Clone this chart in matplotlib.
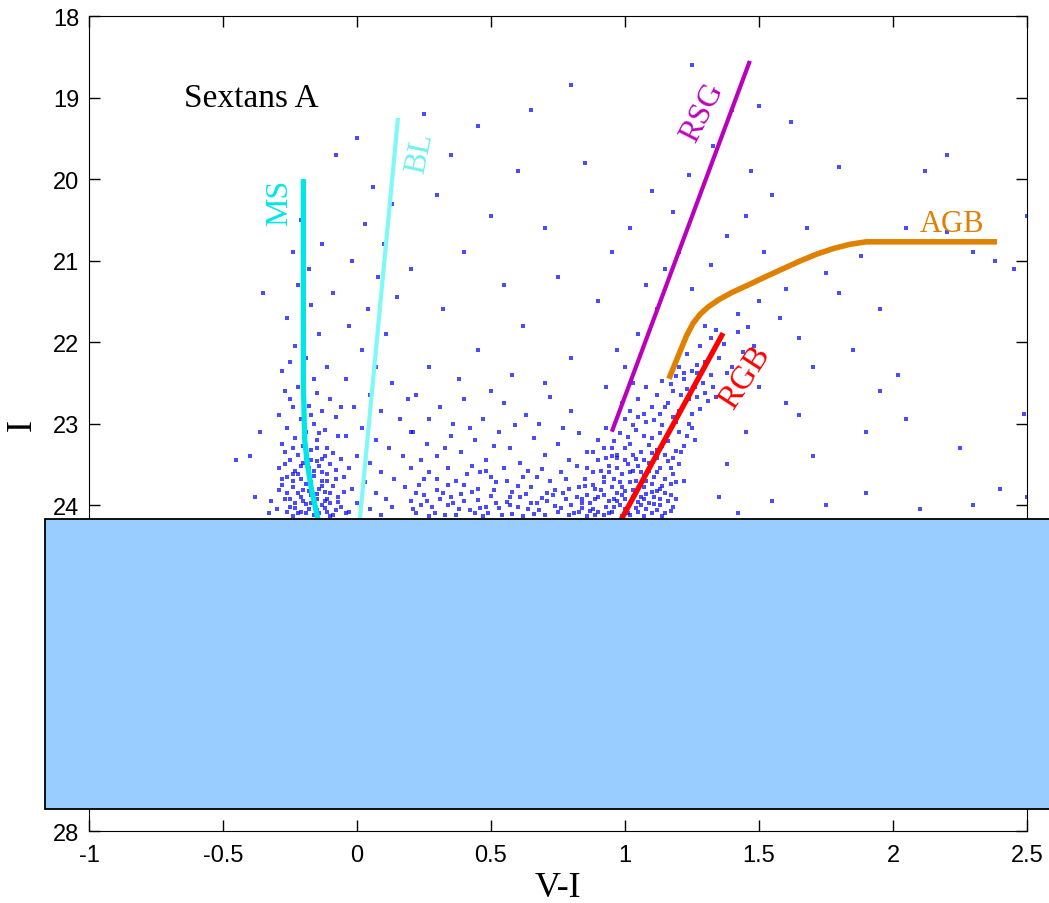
import matplotlib.pyplot as plt
from matplotlib.patches import Rectangle

# colour-magnitude diagram of Sextans A, I vs V-I
# stars, grouped by where they sit in the diagram
ms_stars = [(-0.24, 20.9), (-0.22, 21.3), (-0.17, 21.55), (-0.26, 21.7), (-0.14, 21.9), (-0.23, 22.05),
            (-0.19, 22.2), (-0.11, 22.3), (-0.28, 22.35), (-0.16, 22.45), (-0.21, 20.5), (-0.13, 20.8),
            (-0.18, 21.1), (-0.09, 21.4), (-0.25, 22.25),
            (-0.27, 22.6), (-0.22, 22.55), (-0.15, 22.62), (-0.10, 22.7), (-0.24, 22.8), (-0.18, 22.78),
            (-0.13, 22.85), (-0.29, 22.9), (-0.21, 22.95), (-0.16, 23.0), (-0.08, 22.92), (-0.26, 23.05),
            (-0.19, 23.1), (-0.12, 23.08), (-0.23, 23.18), (-0.15, 23.2), (-0.07, 23.15), (-0.28, 23.25),
            (-0.2, 23.28), (-0.11, 23.3), (-0.25, 22.7), (-0.06, 22.8), (-0.17, 22.9), (-0.14, 23.12),
            (-0.27, 23.35), (-0.22, 23.38), (-0.17, 23.33), (-0.12, 23.4), (-0.09, 23.36), (-0.25, 23.45),
            (-0.2, 23.48), (-0.15, 23.46), (-0.1, 23.5), (-0.06, 23.44), (-0.29, 23.55), (-0.23, 23.58),
            (-0.18, 23.55), (-0.13, 23.6), (-0.08, 23.57), (-0.26, 23.65), (-0.21, 23.68), (-0.16, 23.64),
            (-0.11, 23.7), (-0.05, 23.66), (-0.28, 23.75), (-0.24, 23.78), (-0.19, 23.74), (-0.14, 23.8),
            (-0.09, 23.77), (-0.22, 23.85), (-0.17, 23.88), (-0.12, 23.84), (-0.07, 23.9), (-0.27, 23.92),
            (-0.2, 23.95), (-0.15, 23.93), (-0.1, 23.98), (-0.25, 24.02), (-0.18, 24.05), (-0.13, 24.0),
            (-0.08, 24.06), (-0.22, 24.1), (-0.16, 24.12), (-0.11, 24.09), (-0.3, 24.05), (-0.24, 23.62),
            (-0.19, 23.42), (-0.14, 23.52), (-0.23, 23.98), (-0.17, 23.72), (-0.12, 23.95), (-0.21, 24.08),
            (-0.26, 23.85), (-0.15, 24.06), (-0.2, 23.82), (-0.1, 23.85), (-0.06, 24.02), (-0.32, 23.95),
            (-0.33, 24.1), (-0.18, 23.62), (-0.13, 23.7), (-0.28, 23.68), (-0.09, 24.12), (-0.24, 24.13),
            (-0.26, 24.08), (-0.23, 24.03), (-0.19, 24.1), (-0.17, 23.98), (-0.14, 24.1), (-0.12, 24.04),
            (-0.1, 24.13), (-0.07, 23.96), (-0.21, 23.9), (-0.18, 23.83), (-0.15, 23.86), (-0.13, 23.76),
            (-0.24, 23.7), (-0.22, 23.62), (-0.16, 23.58), (-0.11, 23.62), (-0.27, 23.5), (-0.21, 23.52),
            (-0.17, 23.45), (-0.13, 23.43), (-0.24, 23.3), (-0.19, 23.36), (-0.15, 23.3), (-0.08, 23.68),
            (-0.05, 23.84), (-0.29, 23.82), (-0.25, 23.92), (-0.19, 23.99), (-0.11, 23.92), (-0.03, 24.08)]

bl_stars = [(0.06, 20.1), (0.13, 20.3), (0.03, 20.55), (0.1, 20.8), (-0.02, 21.0), (0.08, 21.2),
            (0.15, 21.45), (0.04, 21.6), (-0.03, 21.8), (0.11, 21.9), (0.02, 22.1), (0.07, 22.3),
            (-0.04, 22.45), (0.13, 22.5), (0.05, 22.65), (-0.01, 22.8), (0.09, 22.85), (0.16, 22.95),
            (0.02, 23.05), (-0.04, 23.15), (0.07, 23.2), (0.12, 23.3), (0.0, 23.4), (0.05, 23.48),
            (-0.03, 23.55), (0.09, 23.6), (0.14, 23.68), (0.03, 23.72), (-0.02, 23.8), (0.07, 23.85),
            (0.11, 23.92), (0.0, 23.98), (0.05, 24.05), (-0.04, 24.1), (0.09, 24.12), (0.13, 24.02),
            (0.18, 23.78), (0.17, 23.4), (0.2, 23.1), (0.19, 22.7)]

mid_stars = [(0.22, 22.65), (0.31, 22.8), (0.4, 22.7), (0.47, 22.95), (0.55, 22.75), (0.63, 22.9),
             (0.72, 22.68), (0.8, 22.85), (0.27, 22.95), (0.5, 22.6), (0.68, 23.0), (0.36, 23.0),
             (0.21, 23.1), (0.26, 23.25), (0.3, 23.4), (0.35, 23.15), (0.39, 23.35), (0.44, 23.2),
             (0.48, 23.45), (0.53, 23.1), (0.57, 23.3), (0.61, 23.48), (0.66, 23.18), (0.7, 23.38),
             (0.75, 23.25), (0.79, 23.45), (0.83, 23.12), (0.24, 23.45), (0.42, 23.05), (0.59, 23.02),
             (0.77, 23.05), (0.33, 23.3), (0.51, 23.28), (0.86, 23.35),
             (0.2, 23.55), (0.23, 23.75), (0.27, 23.6), (0.3, 23.82), (0.34, 23.55), (0.37, 23.7),
             (0.41, 23.62), (0.45, 23.8), (0.48, 23.58), (0.52, 23.72), (0.55, 23.55), (0.58, 23.84),
             (0.62, 23.65), (0.65, 23.78), (0.69, 23.56), (0.72, 23.7), (0.76, 23.6), (0.79, 23.8),
             (0.82, 23.52), (0.85, 23.68), (0.25, 23.68), (0.43, 23.52), (0.6, 23.76), (0.74, 23.82),
             (0.88, 23.6),
             (0.2, 23.95), (0.22, 24.1), (0.25, 23.88), (0.28, 24.02), (0.31, 23.92), (0.33, 24.12),
             (0.36, 23.98), (0.39, 23.87), (0.42, 24.06), (0.45, 23.94), (0.47, 24.13), (0.5, 23.89),
             (0.53, 24.04), (0.56, 23.96), (0.58, 24.11), (0.61, 23.9), (0.64, 24.05), (0.67, 23.97),
             (0.7, 24.12), (0.73, 23.88), (0.76, 24.03), (0.78, 23.93), (0.81, 24.1), (0.84, 23.98),
             (0.87, 24.07), (0.24, 24.0), (0.35, 23.9), (0.44, 24.1), (0.52, 23.97), (0.62, 24.13),
             (0.69, 23.91), (0.8, 24.0), (0.89, 23.92), (0.27, 24.13), (0.48, 24.02), (0.57, 24.0),
             (0.66, 24.11), (0.75, 24.08), (0.86, 24.13), (0.38, 24.05),
             (0.21, 24.05), (0.26, 23.95), (0.29, 24.1), (0.32, 23.85), (0.34, 24.0), (0.37, 24.12),
             (0.4, 23.95), (0.43, 23.84), (0.46, 24.03), (0.49, 24.1), (0.51, 23.82), (0.54, 24.12),
             (0.57, 23.9), (0.6, 24.02), (0.63, 23.86), (0.65, 23.98), (0.68, 24.06), (0.71, 23.95),
             (0.74, 24.01), (0.77, 23.85), (0.79, 24.12), (0.82, 23.9), (0.84, 24.03), (0.3, 23.68),
             (0.4, 23.75), (0.5, 23.65), (0.64, 23.58), (0.71, 23.85), (0.78, 23.68), (0.83, 23.78),
             (0.22, 23.85), (0.46, 23.6), (0.56, 23.7), (0.67, 23.66), (0.34, 23.75)]

rgb_stars = [(0.88, 24.05), (0.9, 23.9), (0.92, 24.12), (0.94, 23.95), (0.95, 24.08), (0.97, 23.85),
             (0.98, 24.0), (1.0, 23.92), (1.01, 24.1), (1.03, 23.82), (1.04, 24.03), (1.06, 23.9),
             (1.07, 24.13), (1.09, 23.97), (1.1, 23.84), (1.12, 24.06), (1.13, 23.92), (1.15, 24.1),
             (1.17, 23.88), (1.18, 24.02), (0.91, 23.82), (0.93, 24.02), (0.96, 23.92), (0.99, 24.13),
             (1.02, 23.97), (1.05, 24.08), (1.08, 23.86), (1.11, 23.99), (1.14, 24.13), (1.16, 23.95),
             (0.86, 23.88), (0.89, 24.12), (1.0, 23.83), (1.06, 24.0), (1.12, 23.83),
             (0.86, 23.55), (0.88, 23.75), (0.9, 23.45), (0.92, 23.65), (0.94, 23.52), (0.95, 23.78),
             (0.97, 23.42), (0.99, 23.62), (1.01, 23.5), (1.02, 23.72), (1.04, 23.44), (1.06, 23.6),
             (1.07, 23.78), (1.09, 23.48), (1.11, 23.66), (1.13, 23.54), (1.14, 23.76), (1.16, 23.46),
             (1.18, 23.62), (1.2, 23.5), (0.93, 23.42), (0.98, 23.72), (1.03, 23.58), (1.08, 23.7),
             (1.12, 23.42), (1.17, 23.74), (1.22, 23.7), (0.91, 23.58),
             (0.9, 23.2), (0.93, 23.05), (0.95, 23.3), (0.98, 23.12), (1.0, 22.95), (1.02, 23.25),
             (1.04, 23.08), (1.06, 23.35), (1.08, 22.98), (1.1, 23.18), (1.12, 23.32), (1.14, 23.02),
             (1.16, 23.22), (1.18, 22.92), (1.2, 23.1), (1.22, 23.28), (1.24, 23.0), (0.97, 23.38),
             (1.05, 22.92), (1.11, 22.96), (1.15, 23.38), (1.19, 23.34), (1.01, 23.16), (1.09, 23.26),
             (0.88, 23.35), (1.26, 23.2),
             (1.02, 22.85), (1.05, 22.7), (1.08, 22.55), (1.1, 22.8), (1.12, 22.65), (1.14, 22.48),
             (1.16, 22.75), (1.18, 22.6), (1.2, 22.85), (1.22, 22.45), (1.24, 22.7), (1.26, 22.55),
             (1.28, 22.82), (1.3, 22.62), (1.32, 22.4), (1.07, 22.88), (1.19, 22.42), (1.27, 22.38),
             (1.34, 22.68), (1.13, 22.88), (0.99, 22.75), (1.03, 22.5),
             (1.2, 22.3), (1.23, 22.15), (1.25, 22.35), (1.28, 22.05), (1.3, 22.25), (1.32, 21.95),
             (1.35, 22.2), (1.37, 22.02), (1.4, 22.3), (1.42, 21.88), (1.44, 22.12), (1.46, 21.82),
             (1.34, 21.85), (1.27, 22.28), (1.38, 22.38), (1.48, 22.05), (1.22, 22.38), (1.3, 21.8),
             (0.87, 23.97), (0.9, 24.08), (0.92, 23.88), (0.94, 24.1), (0.96, 24.02), (0.97, 23.95),
             (0.99, 23.88), (1.0, 24.05), (1.02, 24.12), (1.03, 23.9), (1.05, 23.96), (1.07, 23.92),
             (1.08, 24.05), (1.1, 24.1), (1.11, 23.9), (1.13, 24.0), (1.15, 23.85), (1.17, 24.07),
             (1.19, 23.93), (0.89, 23.8), (0.92, 23.72), (0.94, 23.6), (0.96, 23.68), (0.97, 23.55),
             (0.99, 23.78), (1.0, 23.45), (1.02, 23.6), (1.04, 23.7), (1.05, 23.52), (1.07, 23.64),
             (1.09, 23.58), (1.1, 23.74), (1.12, 23.6), (1.13, 23.8), (1.15, 23.68), (1.17, 23.55),
             (1.19, 23.72), (0.95, 23.4), (1.0, 23.3), (1.03, 23.38), (1.07, 23.45), (1.1, 23.36),
             (1.14, 23.28), (1.18, 23.42), (1.21, 23.35), (1.23, 23.15), (1.25, 23.05), (1.13, 23.12),
             (1.07, 23.15), (1.03, 23.02), (0.96, 23.22), (0.92, 23.3), (1.19, 22.98), (1.15, 22.8),
             (1.21, 22.65), (1.25, 22.88), (1.29, 22.5), (1.31, 22.72), (1.17, 22.52), (1.23, 22.58),
             (1.33, 22.55), (1.27, 22.68), (0.84, 23.92), (0.83, 24.08), (0.85, 23.76)]

upper_stars = [(1.0, 22.3), (0.93, 22.55), (0.97, 22.1), (1.05, 21.9), (1.12, 21.6), (1.08, 21.3),
               (1.15, 21.1), (1.2, 20.9), (1.25, 21.35), (1.32, 21.05), (1.38, 20.7), (1.45, 20.45),
               (1.52, 20.9), (1.6, 21.35), (1.68, 20.6), (1.75, 21.15), (1.5, 21.5), (1.42, 21.65),
               (1.58, 21.7), (1.65, 21.95), (1.8, 21.4), (1.88, 20.95), (1.55, 20.2), (1.47, 19.9),
               (1.33, 19.6), (1.24, 19.95), (1.18, 20.4), (1.1, 20.15), (1.02, 20.6), (0.95, 20.9),
               (1.4, 19.15), (1.5, 19.1), (1.62, 19.3), (1.7, 22.3), (1.85, 22.1), (1.95, 21.6)]

field_stars = [(-0.35, 21.4), (-0.36, 23.1), (-0.38, 23.9), (-0.4, 23.4), (-0.45, 23.45), (-0.08, 19.7),
               (0.0, 19.5), (0.25, 19.2), (0.35, 19.7), (0.45, 19.35), (0.3, 20.2), (0.5, 20.45),
               (0.6, 19.9), (0.4, 20.9), (0.2, 21.1), (0.55, 21.3), (0.7, 20.6), (0.32, 21.6),
               (0.62, 21.8), (0.75, 21.2), (0.85, 19.8), (0.9, 21.5), (0.45, 22.1), (0.27, 22.3),
               (0.58, 22.4), (0.8, 22.2), (0.7, 22.5), (0.38, 22.45), (0.65, 19.15), (0.8, 18.85),
               (1.25, 18.6), (2.05, 20.6), (2.2, 20.65), (2.3, 20.9), (2.45, 21.1), (2.55, 20.8),
               (2.2, 19.7), (1.8, 19.85), (2.38, 21.0), (2.57, 23.05), (2.5, 23.9), (2.55, 23.6),
               (1.65, 22.9), (1.7, 23.4), (1.9, 23.1), (2.05, 22.95), (2.25, 23.3), (2.4, 23.8),
               (1.55, 23.95), (1.75, 24.0), (1.9, 23.85), (1.38, 23.5), (1.45, 23.1), (1.5, 22.55),
               (1.6, 22.75), (2.1, 24.05), (2.3, 24.0), (1.95, 22.6), (2.02, 22.4), (1.42, 24.1),
               (1.35, 23.9), (2.5, 20.45), (2.12, 19.9), (2.49, 22.88)]

# sequence lines
ms_x = [-0.20, -0.20, -0.195, -0.185, -0.17, -0.146, -0.14]
ms_y = [20.0, 22.5, 23.2, 23.5, 23.8, 24.17, 24.3]
bl_x = [0.153, 0.011, 0.005]
bl_y = [19.25, 24.17, 24.3]
rsg_x = [1.466, 0.951]
rsg_y = [18.55, 23.10]
rgb_x = [1.366, 0.989, 0.97]
rgb_y = [21.89, 24.16, 24.3]
agb_x = [1.164, 1.185, 1.205, 1.23, 1.254, 1.28, 1.31, 1.35, 1.40, 1.466, 1.53, 1.59, 1.65,
         1.716, 1.78, 1.84, 1.90, 2.388]
agb_y = [22.45, 22.28, 22.12, 21.92, 21.77, 21.66, 21.57, 21.48, 21.39, 21.29, 21.19, 21.10, 21.01,
         20.92, 20.85, 20.80, 20.77, 20.77]

# hidden region box (V-I and I corners)
box_x = [-1.165, 2.62]
box_y = [24.17, 27.73]

fig = plt.figure(figsize=(10.49, 9.04), dpi=100)
ax = fig.add_axes([0.0848, 0.0796, 0.8942, 0.9015])

allstars = ms_stars + bl_stars + mid_stars + rgb_stars + upper_stars + field_stars
sx = [p[0] for p in allstars]
sy = [p[1] for p in allstars]
ax.plot(sx, sy, 's', ms=2.3, mew=0, color='#0000ff', alpha=0.7, zorder=2)

ax.plot(ms_x, ms_y, color='#00e6e6', lw=3.8, solid_capstyle='butt', zorder=3)
ax.plot(bl_x, bl_y, color='#80f8f8', lw=3.0, solid_capstyle='butt', zorder=3)
ax.plot(rsg_x, rsg_y, color='#bb00bb', lw=3.0, solid_capstyle='butt', zorder=3)
ax.plot(rgb_x, rgb_y, color='#ff0000', lw=3.8, solid_capstyle='butt', zorder=3)
ax.plot(agb_x, agb_y, color='#e08000', lw=4.0, solid_capstyle='butt', zorder=3)

serif = 'Liberation Serif'
ax.text(-0.396, 19.0, 'Sextans A', family=serif, fontsize=24, ha='center', va='center')
ax.text(-0.287, 20.28, 'MS', family=serif, fontsize=23, color='#00e6e6', rotation=90, ha='center', va='center')
ax.text(0.235, 19.67, 'BL', family=serif, fontsize=23, color='#70f0f0', rotation=78, ha='center', va='center')
ax.text(1.291, 19.17, 'RSG', family=serif, fontsize=23, color='#bb00bb', rotation=63, ha='center', va='center')
ax.text(2.22, 20.54, 'AGB', family=serif, fontsize=22, color='#e08000', ha='center', va='center')
ax.text(1.448, 22.43, 'RGB', family=serif, fontsize=24, color='#ff0000', rotation=57, ha='center', va='center')

ax.set_xlim(-1, 2.5)
ax.set_ylim(28, 18)
ax.set_xticks([-1, -0.5, 0, 0.5, 1, 1.5, 2, 2.5])
ax.set_xticklabels(['-1', '-0.5', '0', '0.5', '1', '1.5', '2', '2.5'])
ax.set_yticks(range(18, 29))
ax.tick_params(direction='in', top=True, right=True, length=8, width=1, labelsize=17)
ax.tick_params(axis='x', pad=9)
ax.tick_params(axis='y', pad=7)
for lab in ax.get_xticklabels() + ax.get_yticklabels():
    lab.set_family('Liberation Sans')
ax.set_xlabel('V-I', family=serif, fontsize=26, labelpad=4)
ax.set_ylabel('I', family=serif, fontsize=26, labelpad=10)

ax.add_patch(Rectangle((box_x[0], box_y[0]), box_x[1] - box_x[0], box_y[1] - box_y[0],
                       facecolor='#99ccff', edgecolor='black', lw=1.3, clip_on=False, zorder=10))

fig.savefig('out.png', dpi=100)
